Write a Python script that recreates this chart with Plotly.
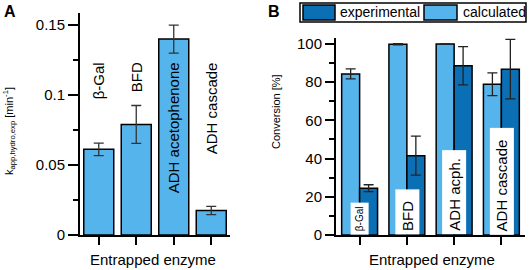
import plotly.graph_objects as go

# ---- data ----
enzymes_a = ["β-Gal", "BFD", "ADH acetophenone", "ADH cascade"]
k_app = [0.0612, 0.079, 0.140, 0.0175]
k_err = [0.0045, 0.0135, 0.010, 0.003]

enzymes_b = ["β-Gal", "BFD", "ADH acph.", "ADH cascade"]
calc_vals = [84.3, 99.8, 100.0, 78.9]
calc_err = [2.6, 0.3, 0.0, 6.0]
exp_vals = [24.5, 41.5, 88.6, 86.8]
exp_err = [1.8, 10.2, 10.0, 15.6]

W, H = 529, 270
LIGHT = "#56B4EC"
DARK = "#0B6FB6"
FONT = "Arial, Liberation Sans, sans-serif"

def px(x):
    return x / W

def py(y):
    return 1 - y / H

fig = go.Figure()

fig.add_trace(go.Bar(
    x=enzymes_a, y=k_app, xaxis="x", yaxis="y", width=0.8,
    marker=dict(color=LIGHT, line=dict(color="black", width=1.5)),
    error_y=dict(type="data", array=k_err, color="#333333", thickness=1.3, width=5),
    showlegend=False,
))

fig.add_trace(go.Bar(
    x=enzymes_b, y=calc_vals, xaxis="x2", yaxis="y2", name="calculated",
    width=0.38, offset=-0.38,
    marker=dict(color=LIGHT, line=dict(color="black", width=1.5)),
    error_y=dict(type="data", array=calc_err, color="#222222", thickness=1.3, width=5),
    showlegend=False,
))
fig.add_trace(go.Bar(
    x=enzymes_b, y=exp_vals, xaxis="x2", yaxis="y2", name="experimental",
    width=0.38, offset=0.0,
    marker=dict(color=DARK, line=dict(color="black", width=1.5)),
    error_y=dict(type="data", array=exp_err, color="#222222", thickness=1.3, width=5),
    showlegend=False,
))

axis_common = dict(showline=True, linecolor="black", linewidth=2, ticks="outside",
                   tickcolor="black", tickwidth=2, showgrid=False, zeroline=False,
                   automargin=False,
                   tickfont=dict(size=15, family=FONT, color="black"))

fig.update_layout(
    template="none",
    width=W, height=H, margin=dict(l=0, r=0, t=0, b=0, pad=0),
    paper_bgcolor="white", plot_bgcolor="white",
    barmode="overlay",
    font=dict(family=FONT, color="black"),
    xaxis=dict(domain=[px(80), px(230)], anchor="y", showticklabels=False,
               range=[-0.5, 3.5], ticklen=8, **axis_common),
    yaxis=dict(domain=[py(235), py(13)], anchor="x", range=[0, 0.1586],
               tick0=0, dtick=0.05, ticklen=10,
               minor=dict(dtick=0.025, ticks="outside", ticklen=5, tickwidth=1.5, tickcolor="black"),
               **axis_common),
    xaxis2=dict(domain=[px(336), px(525)], anchor="y2", showticklabels=False,
                range=[-0.5, 3.5], ticklen=8, **axis_common),
    yaxis2=dict(domain=[py(235), py(38)], anchor="x2", range=[0, 103.1],
                tick0=0, dtick=20, ticklen=9,
                minor=dict(dtick=10, ticks="outside", ticklen=5, tickwidth=1.5, tickcolor="black"),
                **axis_common),
)

ann = []
# Panel A bar labels
for cat in enzymes_a:
    ann.append(dict(x=cat, y=0.125, xref="x", yref="y", text=cat, textangle=-90,
                    showarrow=False, yanchor="top", xanchor="center",
                    font=dict(size=15, family=FONT, color="black")))
# Panel B label boxes
pads = ["", "&nbsp;&nbsp;", "&nbsp;", "&nbsp;&nbsp;"]
sizes = [10, 15, 15, 15]
for cat, p, s in zip(enzymes_b, pads, sizes):
    ann.append(dict(x=cat, y=0, xref="x2", yref="y2", text=cat + p, textangle=-90,
                    showarrow=False, yanchor="bottom", xanchor="center",
                    bgcolor="white", borderpad=3,
                    font=dict(size=s, family=FONT, color="black")))

def pann(x, y, text, size, xanchor="center", yanchor="middle", angle=0):
    return dict(x=px(x), y=py(y), xref="paper", yref="paper", text=text,
                xanchor=xanchor, yanchor=yanchor, textangle=angle, showarrow=False,
                font=dict(size=size, family=FONT, color="black"))

ann += [
    pann(153, 259, "Entrapped enzyme", 15),
    pann(432, 259, "Entrapped enzyme", 15),
    pann(9, 131, "k<sub>app,hydro,exp</sub> [min<sup>-1</sup>]", 11, angle=-90),
    pann(276, 112, "Conversion [%]", 11, angle=-90),
    pann(2, 1, "<b>A</b>", 16, xanchor="left", yanchor="top"),
    pann(266, 1, "<b>B</b>", 16, xanchor="left", yanchor="top"),
    pann(338, 12.5, "experimental", 14, xanchor="left"),
    pann(461, 12.5, "calculated", 14, xanchor="left"),
]
fig.update_layout(annotations=ann)

# manual legend frame and swatches
shapes = [
    dict(type="rect", xref="paper", yref="paper", x0=px(300), x1=px(526), y0=py(22), y1=py(3),
         line=dict(color="black", width=1.5), fillcolor="rgba(0,0,0,0)"),
    dict(type="rect", xref="paper", yref="paper", x0=px(303), x1=px(335), y0=py(20), y1=py(5),
         line=dict(color="black", width=1.5), fillcolor=DARK),
    dict(type="rect", xref="paper", yref="paper", x0=px(424), x1=px(457), y0=py(20), y1=py(5),
         line=dict(color="black", width=1.5), fillcolor=LIGHT),
]
fig.update_layout(shapes=shapes)

fig.write_html("out.html", config={"displayModeBar": False},
               post_script="document.body.style.margin='0';document.body.style.overflow='hidden';")
